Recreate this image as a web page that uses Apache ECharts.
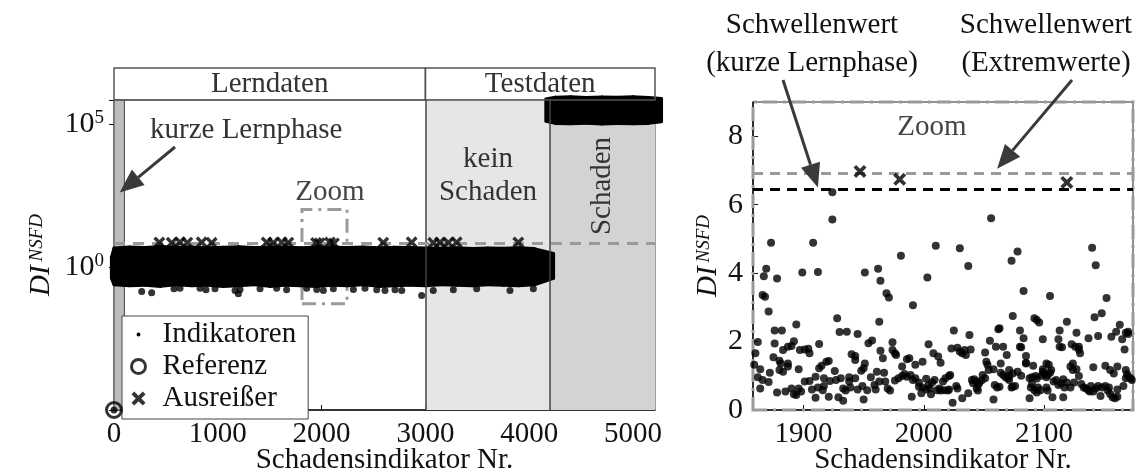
<!DOCTYPE html>
<html>
<head>
<meta charset="utf-8">
<script src="https://cdn.jsdelivr.net/npm/echarts@6/dist/echarts.min.js"></script>
<style>
html, body { margin: 0; padding: 0; background: #fff; }
#chart { width: 1142px; height: 474px; }
</style>
</head>
<body>
<div id="chart"></div>
<script>
// ---------- data ----------
// dense indicator band (learning + test data without damage): envelope per x
const bandX = [-25, 0, 150, 300, 450, 600, 750, 900, 1050, 1200, 1350, 1500, 1650, 1800, 1950, 2100, 2250, 2400, 2550, 2700, 2850, 3000, 3150, 3300, 3450, 3600, 3750, 3900, 4050, 4235];
const bandHigh = [2.2, 4.6, 5.0, 4.8, 5.2, 4.9, 5.0, 4.7, 4.9, 5.1, 4.8, 4.9, 5.0, 4.7, 5.0, 4.9, 4.8, 5.0, 4.7, 4.9, 4.8, 4.6, 4.5, 4.7, 4.4, 4.6, 4.5, 4.7, 4.4, 3.0];
const bandLow = [0.4, 0.24, 0.22, 0.23, 0.21, 0.24, 0.22, 0.23, 0.21, 0.22, 0.24, 0.21, 0.23, 0.22, 0.21, 0.23, 0.22, 0.24, 0.21, 0.22, 0.23, 0.22, 0.24, 0.23, 0.22, 0.24, 0.23, 0.22, 0.24, 0.4];
// damaged test data band
const dmgX = [4160, 4250, 4400, 4550, 4700, 4850, 5000, 5150, 5275];
const dmgHigh = [7.5e5, 8.6e5, 8.9e5, 8.5e5, 8.8e5, 8.6e5, 8.9e5, 8.5e5, 7.8e5];
const dmgLow = [1.25e5, 1.05e5, 1.02e5, 1.06e5, 1.0e5, 1.04e5, 1.02e5, 1.05e5, 1.2e5];
// single indicators visible below the band
const lowIndicators = [[0, 1e-5], [267, 0.138], [363, 0.125], [578, 0.172], [636, 0.18], [829, 0.18], [886, 0.16], [973, 0.172], [1166, 0.15], [1198, 0.115], [1214, 0.163], [1407, 0.172], [1567, 0.18], [1663, 0.16], [1856, 0.18], [1953, 0.163], [2017, 0.15], [2113, 0.172], [2306, 0.163], [2418, 0.18], [2531, 0.16], [2611, 0.15], [2707, 0.16], [2772, 0.15], [2964, 0.10], [3076, 0.15], [3269, 0.16], [3494, 0.172], [3815, 0.15], [4040, 0.172]];
const outliersAll = [[437, 7.2], [556, 7.0], [636, 7.4], [706, 7.1], [845, 7.3], [941, 7.0], [1471, 7.2], [1535, 7.0], [1616, 7.3], [1679, 7.1], [1947, 6.97], [1980, 6.74], [2081, 7.2], [2119, 6.65], [2594, 7.1], [2868, 7.3], [3076, 7.0], [3141, 7.2], [3221, 7.1], [3301, 7.3], [3895, 7.2]];
const referenz = [[0, 1e-5]];
const thresholdExtreme = 6.93;
const thresholdShort = 6.45;
const phaseBounds = { shortEnd: 100, learnEnd: 3000, damageStart: 4200 };

// zoomed window
const zoomOutliers = [[1947, 6.97], [1980, 6.74], [2119, 6.65]];
const zoomIndicators = [
  [1924, 6.36], [1924, 5.57], [1873, 4.89], [1908, 4.89], [1869, 4.13], [1867, 3.91], [1878, 3.84], [1899, 4.02], [1912, 4.03], [1951, 4.02], [1962, 4.13], [1964, 3.78], [1866, 3.36], [1868, 3.31], [1871, 2.88],
  [2056, 5.60], [2010, 4.80], [2030, 4.73], [1981, 4.51], [2037, 4.21], [2073, 4.36], [2003, 3.87], [1969, 3.41], [1971, 3.29], [1991, 3.06],
  [2078, 4.63], [2140, 4.74], [2143, 4.23], [2083, 3.48], [2105, 3.33], [2152, 3.27],
  [1928, 2.68], [1963, 2.58], [1876, 2.32], [1882, 2.32], [1894, 2.50], [1930, 2.28], [1936, 2.29], [1945, 2.22], [1862, 1.99], [1876, 1.94], [1883, 1.75], [1887, 1.85], [1890, 1.87], [1892, 2.01], [1897, 1.75], [1901, 1.77], [1904, 1.79], [1905, 1.66], [1913, 1.93], [1860, 1.66], [1957, 2.03], [1954, 1.95], [1964, 1.73], [1940, 1.63], [1943, 1.58], [1943, 1.46], [1875, 1.54], [1880, 1.44], [1881, 1.36], [1887, 1.36], [1887, 1.27], [1880, 1.17], [1883, 1.12], [1896, 1.19], [1919, 1.41], [1921, 1.43], [1915, 1.29], [1913, 1.22], [1926, 1.14], [1859, 1.32], [1864, 1.19], [1862, 0.96], [1866, 0.88], [1872, 1.09], [1871, 0.82], [1951, 1.36], [1950, 1.22], [1948, 1.15], [1961, 1.12], [1864, 0.63], [1878, 0.51], [1885, 0.54], [1890, 0.63], [1892, 0.46], [1894, 0.44], [1896, 0.63], [1898, 0.54], [1901, 0.83], [1905, 0.85], [1907, 0.60], [1910, 0.97], [1912, 0.66], [1910, 0.36], [1917, 0.93], [1916, 0.58], [1917, 0.70], [1921, 0.39], [1922, 0.85], [1927, 0.88], [1931, 0.93], [1933, 0.63], [1935, 0.57], [1929, 0.37], [1933, 0.27], [1938, 0.96], [1938, 0.83], [1943, 0.93], [1939, 0.66], [1945, 0.60], [1949, 0.70], [1950, 0.31], [1953, 0.58], [1956, 0.96], [1959, 0.73], [1960, 0.60], [1963, 0.83],
  [2074, 2.75], [2025, 2.32], [2038, 2.19], [2062, 2.36], [2063, 2.39], [2055, 2.02], [1974, 1.98], [2004, 1.92], [1974, 1.75], [1976, 1.66], [1977, 1.61], [1966, 1.51], [2008, 1.66], [2012, 1.56], [2014, 1.38], [2023, 1.80], [2028, 1.82], [2030, 1.71], [2034, 1.75], [2035, 1.61], [2039, 1.77], [2032, 1.66], [2060, 1.85], [2066, 1.85], [2051, 1.68], [2052, 1.41], [2053, 1.32], [2054, 1.17], [2058, 1.19], [2064, 1.36], [2069, 1.61], [1986, 1.48], [1988, 1.51], [1982, 1.27], [1993, 1.32], [1999, 1.41], [1967, 1.09], [1968, 0.83], [1970, 0.63], [1972, 0.57], [1976, 0.86], [1979, 0.93], [1982, 0.99], [1984, 1.05], [1986, 0.97], [1989, 1.02], [1991, 0.88], [1993, 0.93], [1996, 0.80], [1996, 0.68], [1999, 0.66], [2002, 0.60], [2004, 0.73], [2005, 0.63], [1998, 0.49], [2007, 0.80], [2009, 0.88], [2006, 0.46], [2002, 0.91], [2011, 0.58], [2014, 0.57], [2017, 0.58], [2020, 0.57], [2021, 0.60], [2013, 0.63], [2016, 0.83], [2018, 0.93], [2021, 0.99], [2022, 1.02], [2027, 0.70], [2028, 0.63], [1990, 0.39], [2024, 0.21], [2032, 0.34], [2037, 0.49], [2040, 0.88], [2042, 0.90], [2041, 0.78], [2044, 0.83], [2045, 0.73], [2046, 0.78], [2044, 0.63], [2045, 0.57], [2048, 0.86], [2049, 1.02], [2051, 0.93], [2059, 0.73], [2061, 0.66], [2063, 0.68], [2058, 0.31], [2064, 1.09], [2066, 1.02], [2068, 0.96], [2070, 0.93], [2071, 0.99], [2074, 0.68],
  [2092, 2.68], [2094, 2.63], [2096, 2.56], [2119, 2.58], [2142, 2.71], [2148, 2.83], [2163, 2.49], [2080, 2.32], [2113, 2.32], [2127, 2.26], [2145, 2.16], [2137, 2.10], [2156, 2.14], [2160, 2.29], [2168, 2.26], [2170, 2.29], [2170, 2.22], [2083, 2.10], [2099, 2.07], [2112, 2.07], [2165, 2.07], [2080, 1.85], [2081, 1.83], [2113, 1.85], [2115, 1.83], [2123, 1.92], [2129, 1.85], [2130, 1.66], [2129, 1.77], [2126, 1.85], [2167, 1.77], [2085, 1.58], [2085, 1.38], [2085, 1.36], [2091, 1.29], [2099, 1.19], [2099, 1.12], [2100, 1.05], [2102, 1.36], [2104, 1.32], [2106, 1.17], [2105, 1.09], [2103, 1.02], [2102, 0.96], [2098, 1.00], [2094, 0.92], [2122, 1.27], [2124, 1.36], [2124, 1.17], [2127, 1.19], [2141, 1.25], [2151, 1.29], [2155, 1.17], [2158, 1.07], [2161, 1.27], [2168, 1.17], [2168, 0.93], [2172, 0.93], [2169, 1.05], [2071, 1.17], [2074, 1.07], [2078, 1.12], [2081, 1.00], [2076, 0.70], [2073, 0.66], [2071, 0.88],
  [2088, 0.93], [2090, 0.96], [2093, 0.99], [2090, 0.76], [2089, 0.66], [2092, 0.58], [2095, 0.66], [2097, 0.58], [2088, 0.34], [2094, 0.51], [2103, 0.57], [2102, 0.66], [2107, 0.37], [2116, 0.37], [2108, 0.83], [2110, 0.88], [2112, 0.73], [2114, 0.78], [2116, 0.90], [2117, 0.66], [2119, 0.80], [2122, 0.66], [2125, 0.80], [2129, 0.99], [2131, 0.76], [2133, 0.66], [2135, 0.63], [2137, 0.58], [2138, 0.54], [2139, 0.70], [2141, 0.54], [2143, 0.63], [2145, 0.70], [2148, 0.66], [2147, 0.41], [2151, 0.70], [2153, 0.57], [2154, 0.66], [2155, 0.47], [2157, 0.37], [2159, 0.34], [2161, 0.39], [2161, 0.60], [2166, 0.70], [2170, 0.97], [2173, 0.88]
];
const zoomBoxLeft = [[1811, 0.052], [2245, 103]];
const zoomRange = { xMin: 1858, xMax: 2174, yMin: 0, yMax: 9 };
const rightTicks = [1900, 2000, 2100];

// ---------- chart ----------
const FONT = "Liberation Serif";
const crossPath = "path://M0,2L2,0L5,3L8,0L10,2L7,5L10,8L8,10L5,7L2,10L0,8L3,5Z";
const dotIcon = "path://M0,0L0.01,0M10,10L10.01,10M3.6,5A1.4,1.4,0,1,1,6.4,5A1.4,1.4,0,1,1,3.6,5Z";
const plain = v => String(v);

function bandRenderer(xs, lo, hi) {
  return function (params, api) {
    const i = params.dataIndex;
    if (i >= xs.length - 1) return null;
    const pts = [
      api.coord([xs[i], hi[i]]), api.coord([xs[i + 1], hi[i + 1]]),
      api.coord([xs[i + 1], lo[i + 1]]), api.coord([xs[i], lo[i]])
    ];
    return { type: "polygon", shape: { points: pts }, style: { fill: "#000", stroke: "#000", lineWidth: 3, lineJoin: "round" } };
  };
}

const chart = echarts.init(document.getElementById("chart"));
const dashDot = [14, 6, 3, 6];

const option = {
  animation: false,
  textStyle: { fontFamily: FONT },
  grid: [
    { left: 114, top: 100, width: 541, height: 310, outerBoundsMode: "none", containLabel: false, show: true, borderColor: "#444", borderWidth: 1 },
    { left: 753, top: 102, width: 380, height: 308, outerBoundsMode: "none", containLabel: false, show: true, borderColor: "#222", borderWidth: 1 }
  ],
  legend: {
    left: 122, top: 316, orient: "vertical", itemGap: 3, itemWidth: 14, itemHeight: 14,
    padding: [4, 12, 6, 8], backgroundColor: "#fff", borderColor: "#444", borderWidth: 1,
    textStyle: { fontFamily: FONT, fontSize: 29, color: "#111", padding: [0, 0, 0, 12] },
    data: [
      { name: "Indikatoren", icon: dotIcon, itemStyle: { color: "#000" } },
      { name: "Referenz", icon: "circle", itemStyle: { color: "#fff", borderColor: "#000", borderWidth: 3 } },
      { name: "Ausreißer", icon: crossPath, itemStyle: { color: "#000" } }
    ]
  },
  xAxis: [
    {
      gridIndex: 0, type: "value", min: 0, max: 5212, interval: 1000,
      name: "Schadensindikator Nr.", nameLocation: "middle", nameGap: 36, nameMoveOverlap: false,
      nameTextStyle: { fontFamily: FONT, fontSize: 29, color: "#111" },
      axisLine: { lineStyle: { color: "#111", width: 1.5 } },
      axisTick: { inside: true, length: 5, lineStyle: { color: "#111" } },
      axisLabel: { fontFamily: FONT, fontSize: 29, color: "#111", margin: 10, showMaxLabel: false, formatter: plain },
      splitLine: { show: false }
    },
    {
      gridIndex: 1, type: "value", min: zoomRange.xMin, max: zoomRange.xMax,
      name: "Schadensindikator Nr.", nameLocation: "middle", nameGap: 36, nameMoveOverlap: false,
      nameTextStyle: { fontFamily: FONT, fontSize: 29, color: "#111" },
      axisLine: { lineStyle: { color: "#111", width: 1.5 } },
      axisTick: { inside: true, length: 5, customValues: rightTicks, lineStyle: { color: "#111" } },
      axisLabel: { fontFamily: FONT, fontSize: 29, color: "#111", margin: 10, customValues: rightTicks, formatter: plain },
      splitLine: { show: false }
    }
  ],
  yAxis: [
    {
      gridIndex: 0, type: "log", logBase: 10, min: 1e-5, max: 6.9e5, interval: 5,
      name: "DI{s|NSFD}", nameLocation: "middle", nameGap: 58, nameMoveOverlap: false,
      nameTextStyle: { fontFamily: FONT, fontSize: 29, fontStyle: "italic", color: "#111",
        rich: { s: { fontFamily: FONT, fontSize: 19, fontStyle: "italic", color: "#111", verticalAlign: "top", padding: [0, 0, 10, 4] } } },
      axisLine: { lineStyle: { color: "#444", width: 1 } },
      axisTick: { inside: false, length: 5, lineStyle: { color: "#111" } },
      axisLabel: {
        margin: 10,
        formatter: function (v) {
          const e = Math.round(Math.log10(v) * 100) / 100;
          if (e === 0) return "{b|10}{s|0}";
          if (e === 5) return "{b|10}{s|5}";
          return "";
        },
        rich: {
          b: { fontFamily: FONT, fontSize: 30, color: "#111" },
          s: { fontFamily: FONT, fontSize: 19, color: "#111", verticalAlign: "top", padding: [0, 0, 12, 0] }
        }
      },
      splitLine: { show: false }
    },
    {
      gridIndex: 1, type: "value", min: zoomRange.yMin, max: zoomRange.yMax, interval: 2,
      name: "DI{s|NSFD}", nameLocation: "middle", nameGap: 30, nameMoveOverlap: false,
      nameTextStyle: { fontFamily: FONT, fontSize: 29, fontStyle: "italic", color: "#111",
        rich: { s: { fontFamily: FONT, fontSize: 19, fontStyle: "italic", color: "#111", verticalAlign: "top", padding: [0, 0, 10, 4] } } },
      axisLine: { lineStyle: { color: "#111", width: 1.5 } },
      axisTick: { inside: true, length: 5, lineStyle: { color: "#111" } },
      axisLabel: { fontFamily: FONT, fontSize: 30, color: "#111", margin: 10, showMaxLabel: false },
      splitLine: { show: false }
    }
  ],
  series: [
    // phase regions (left)
    {
      type: "line", xAxisIndex: 0, yAxisIndex: 0, data: [], z: 0, silent: true,
      markArea: {
        silent: true,
        data: [
          [{ xAxis: 0, itemStyle: { color: "#bdbdbd", borderColor: "#444", borderWidth: 1 } }, { xAxis: phaseBounds.shortEnd }],
          [{ xAxis: phaseBounds.learnEnd, itemStyle: { color: "#e6e6e6" } }, { xAxis: phaseBounds.damageStart }],
          [{ xAxis: phaseBounds.damageStart, itemStyle: { color: "#d3d3d3" } }, { xAxis: 5212 }]
        ]
      },
      markLine: {
        silent: true, symbol: "none", label: { show: false },
        lineStyle: { color: "#444", width: 1.5, type: "solid" },
        data: [{ xAxis: phaseBounds.learnEnd }, { xAxis: phaseBounds.damageStart }]
      }
    },
    {
      name: "Indikatoren", type: "custom", xAxisIndex: 0, yAxisIndex: 0, z: 2, clip: false,
      renderItem: bandRenderer(bandX, bandLow, bandHigh),
      encode: { x: 0, y: [1, 2] },
      data: bandX.map((x, i) => [x, bandLow[i], bandHigh[i]])
    },
    {
      name: "Indikatoren", type: "custom", xAxisIndex: 0, yAxisIndex: 0, z: 2, clip: false,
      renderItem: bandRenderer(dmgX, dmgLow, dmgHigh),
      encode: { x: 0, y: [1, 2] },
      data: dmgX.map((x, i) => [x, dmgLow[i], dmgHigh[i]])
    },
    {
      name: "Indikatoren", type: "scatter", xAxisIndex: 0, yAxisIndex: 0, z: 3, clip: false,
      symbol: "circle", symbolSize: 7, itemStyle: { color: "#000" }, data: lowIndicators
    },
    {
      type: "line", xAxisIndex: 0, yAxisIndex: 0, data: [], z: 4, silent: true,
      markLine: {
        silent: true, symbol: "none", label: { show: false },
        lineStyle: { color: "#9a9a9a", width: 3, type: [11, 8] },
        data: [{ yAxis: thresholdExtreme }]
      }
    },
    {
      name: "Ausreißer", type: "scatter", xAxisIndex: 0, yAxisIndex: 0, z: 5,
      symbol: crossPath, symbolSize: 12, itemStyle: { color: "#000" }, data: outliersAll
    },
    {
      name: "Referenz", type: "scatter", xAxisIndex: 0, yAxisIndex: 0, z: 5, clip: false,
      symbol: "circle", symbolSize: 15, itemStyle: { color: "rgba(0,0,0,0)", borderColor: "#000", borderWidth: 3 }, data: referenz
    },
    {
      type: "line", xAxisIndex: 0, yAxisIndex: 0, data: [], z: 6, silent: true,
      markArea: {
        silent: true,
        itemStyle: { color: "rgba(0,0,0,0)", borderColor: "#9a9a9a", borderWidth: 3, borderType: dashDot },
        data: [[{ coord: zoomBoxLeft[0] }, { coord: zoomBoxLeft[1] }]]
      }
    },
    // zoomed panel
    {
      name: "Indikatoren", type: "scatter", xAxisIndex: 1, yAxisIndex: 1, z: 3,
      symbol: "circle", symbolSize: 8, itemStyle: { color: "#000" }, data: zoomIndicators,
      markLine: {
        silent: true, symbol: "none", label: { show: false },
        data: [
          { yAxis: thresholdExtreme, lineStyle: { color: "#9a9a9a", width: 3, type: [10, 7] } },
          { yAxis: thresholdShort, lineStyle: { color: "#000", width: 3, type: [10, 7] } }
        ]
      }
    },
    {
      name: "Ausreißer", type: "scatter", xAxisIndex: 1, yAxisIndex: 1, z: 5,
      symbol: crossPath, symbolSize: 13, itemStyle: { color: "#000" }, data: zoomOutliers
    },
    {
      type: "line", xAxisIndex: 1, yAxisIndex: 1, data: [], z: 6, silent: true,
      markArea: {
        silent: true,
        itemStyle: { color: "rgba(0,0,0,0)", borderColor: "#9a9a9a", borderWidth: 3, borderType: dashDot },
        data: [[{ coord: [zoomRange.xMin, zoomRange.yMin] }, { coord: [zoomRange.xMax, zoomRange.yMax] }]]
      }
    }
  ]
};
chart.setOption(option);

// ---------- annotations ----------
function arrow(x1, y1, x2, y2) {
  const a = Math.atan2(y2 - y1, x2 - x1), L = 24, W = 10;
  const bx = x2 - L * Math.cos(a), by = y2 - L * Math.sin(a);
  const px = -Math.sin(a) * W, py = Math.cos(a) * W;
  return [
    { type: "line", z: 100, shape: { x1: x1, y1: y1, x2: bx, y2: by }, style: { stroke: "#3a3a3a", lineWidth: 3 } },
    { type: "polygon", z: 100, shape: { points: [[x2, y2], [bx + px, by + py], [bx - px, by - py]] }, style: { fill: "#3a3a3a" } }
  ];
}
function label(text, x, y, extra, opts) {
  return Object.assign({
    type: "text", z: 100, x: x, y: y,
    style: Object.assign({ text: text, fontFamily: FONT, fontSize: 29, fill: "#333", align: "center", verticalAlign: "middle" }, extra || {})
  }, opts || {});
}

const xPix = v => chart.convertToPixel({ xAxisIndex: 0 }, v);
const x0 = xPix(0), x3 = xPix(phaseBounds.learnEnd), xE = xPix(5212);
const tipShort = chart.convertToPixel({ gridIndex: 1 }, [1912, 6.5]);
const tipExtreme = chart.convertToPixel({ gridIndex: 1 }, [2061, 7.05]);
const tipLern = chart.convertToPixel({ gridIndex: 0 }, [55, 400]);

const graphics = [
  { type: "rect", z: 100, shape: { x: x0, y: 68, width: x3 - x0, height: 32 }, style: { fill: "none", stroke: "#555", lineWidth: 1.5 } },
  { type: "rect", z: 100, shape: { x: x3, y: 68, width: xE - x3, height: 32 }, style: { fill: "none", stroke: "#555", lineWidth: 1.5 } },
  label("Lerndaten", (x0 + x3) / 2, 84),
  label("Testdaten", (x3 + xE) / 2, 84),
  label("kurze Lernphase", 150, 130, { align: "left" }),
  label("Zoom", 330, 192, { fill: "#444" }),
  label("kein\nSchaden", 488, 176, { lineHeight: 33 }),
  label("Schaden", 602, 186, null, { rotation: Math.PI / 2 }),
  label("Zoom", 932, 127, { fill: "#444" }),
  label("Schwellenwert\n(kurze Lernphase)", 812, 44, { lineHeight: 38, fill: "#111" }),
  label("Schwellenwert\n(Extremwerte)", 1046, 44, { lineHeight: 38, fill: "#111" })
]
  .concat(arrow(175, 147, tipLern[0], tipLern[1]))
  .concat(arrow(783, 80, tipShort[0], tipShort[1]))
  .concat(arrow(1072, 80, tipExtreme[0], tipExtreme[1]));

chart.setOption({ graphic: graphics });
</script>
</body>
</html>
